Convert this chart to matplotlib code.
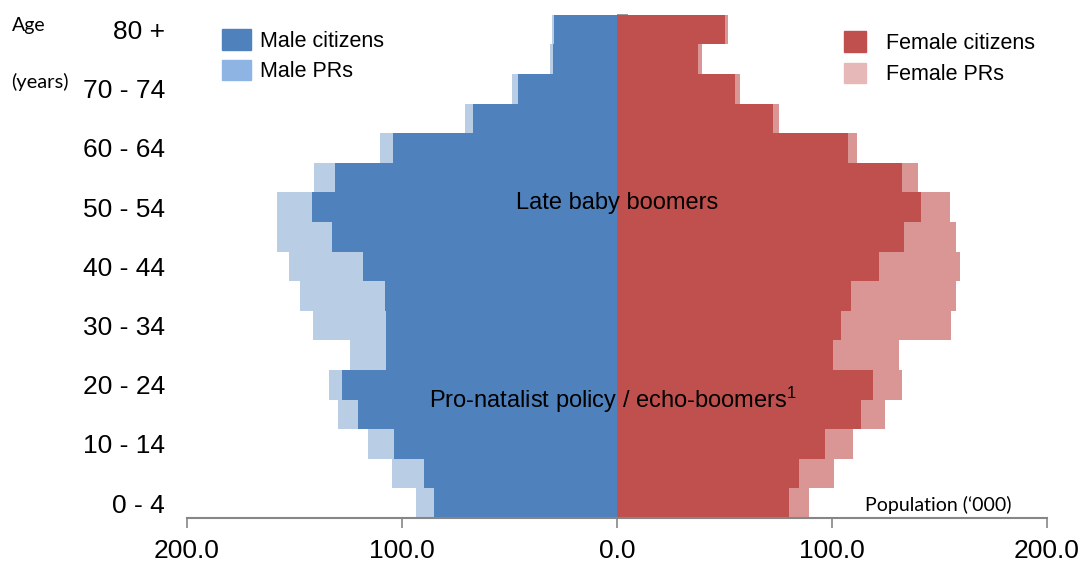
import numpy as np
import matplotlib.pyplot as plt
from matplotlib.patches import Patch

# --- Dane: populacja wg grup wieku (tys.) ---
age_groups = ['0 - 4', '5 - 9', '10 - 14', '15 - 19', '20 - 24', '25 - 29',
              '30 - 34', '35 - 39', '40 - 44', '45 - 49', '50 - 54', '55 - 59',
              '60 - 64', '65 - 69', '70 - 74', '75 - 79', '80 +']

male_citizens = [85.3, 89.6, 103.9, 120.6, 128.1, 107.4, 107.4, 107.8, 118.3,
                 132.4, 142.0, 131.3, 104.3, 67.1, 46.2, 29.6, 29.3]
male_prs = [8.2, 15.1, 12.1, 9.3, 5.9, 16.6, 33.8, 39.6, 34.3,
            25.9, 16.0, 9.6, 5.9, 3.6, 2.8, 1.6, 0.9]
female_citizens = [80.0, 84.7, 96.9, 113.5, 119.1, 100.3, 104.2, 108.8, 121.7,
                   133.5, 141.4, 132.6, 107.3, 72.7, 54.9, 37.8, 50.2]
female_prs = [9.5, 16.1, 12.9, 11.3, 13.6, 31.0, 51.1, 48.9, 38.0,
              24.2, 13.5, 7.4, 4.5, 2.5, 2.2, 1.6, 1.3]

annotations = [('Late baby boomers', 10.14, 0),
               ('Pro-natalist policy / echo-boomers$^{1}$', 3.5, -2)]

# --- Kolory ---
c_male = '#4F81BD'
c_male_pr = '#B9CDE5'
c_male_pr_leg = '#8DB4E2'
c_fem = '#C0504D'
c_fem_pr = '#D99694'
c_fem_pr_leg = '#E6B9B8'
grey = '#868686'

plt.rcParams['font.family'] = ['Liberation Sans', 'DejaVu Sans']
plt.rcParams['mathtext.fontset'] = 'custom'
plt.rcParams['mathtext.rm'] = 'Liberation Sans'
plt.rcParams['mathtext.default'] = 'regular'

y = np.arange(len(age_groups))
mc = np.array(male_citizens)
mp = np.array(male_prs)
fc = np.array(female_citizens)
fp = np.array(female_prs)

fig = plt.figure(figsize=(10.82, 5.62), dpi=100)
ax = fig.add_axes([187 / 1082, 44 / 562, 860 / 1082, 503.3 / 562])

ax.barh(y, -mc, height=1.0, color=c_male, linewidth=0)
ax.barh(y, -mp, left=-mc, height=1.0, color=c_male_pr, linewidth=0)
ax.barh(y, fc, height=1.0, color=c_fem, linewidth=0)
ax.barh(y, fp, left=fc, height=1.0, color=c_fem_pr, linewidth=0)

ax.set_xlim(-200, 200)
ax.set_ylim(-0.5, len(age_groups) - 0.5)

# oś X
ax.set_xticks([-200, -100, 0, 100, 200])
ax.set_xticklabels(['200.0', '100.0', '0.0', '100.0', '200.0'], fontsize=19)
ax.tick_params(axis='x', length=7, width=1.2, color=grey, pad=8)
for s in ['top', 'right', 'left']:
    ax.spines[s].set_visible(False)
ax.spines['bottom'].set_color(grey)
ax.spines['bottom'].set_linewidth(1.5)

# etykiety grup wieku po lewej (co druga grupa)
ax.set_yticks(y[::2])
ax.set_yticklabels(age_groups[::2], fontsize=19)
ax.tick_params(axis='y', length=0, pad=16)

# pionowa oś w zerze z kreskami na granicach grup
sec = ax.secondary_yaxis(0.5)
sec.set_yticks(np.arange(-0.5, len(age_groups), 1.0))
sec.set_yticklabels([])
sec.tick_params(axis='y', length=8, width=1.2, color=grey)
sec.spines['left'].set_color(grey)
sec.spines['left'].set_linewidth(1.5)

for txt, ypos, xoff in annotations:
    ax.text(xoff, ypos, txt, ha='center', va='center', fontsize=17, color='black')

# opisy osi
fig.text(12 / 1082, 1 - 26 / 562, 'Age', fontsize=14, family='Lato', va='center', ha='left')
fig.text(11 / 1082, 1 - 82 / 562, '(years)', fontsize=14.5, family='Lato', va='center', ha='left')
fig.text(865 / 1082, 1 - 505 / 562, 'Population (\u2018000)', fontsize=14, family='Lato',
         va='center', ha='left')

# legendy
leg_m = fig.legend(handles=[Patch(color=c_male, label='Male citizens'),
                            Patch(color=c_male_pr_leg, label='Male PRs')],
                   loc='upper left', bbox_to_anchor=(222 / 1082, 1 - 29 / 562),
                   frameon=False, fontsize=15.5, handlelength=1.35, handleheight=1.12,
                   handletextpad=0.42, labelspacing=0.36, borderpad=0, borderaxespad=0)
leg_f = fig.legend(handles=[Patch(color=c_fem, label='Female citizens'),
                            Patch(color=c_fem_pr_leg, label='Female PRs')],
                   loc='upper left', bbox_to_anchor=(844 / 1082, 1 - 31 / 562),
                   frameon=False, fontsize=15.5, handlelength=1.0, handleheight=1.1,
                   handletextpad=0.93, labelspacing=0.42, borderpad=0, borderaxespad=0)

fig.savefig('out.png', dpi=100)
